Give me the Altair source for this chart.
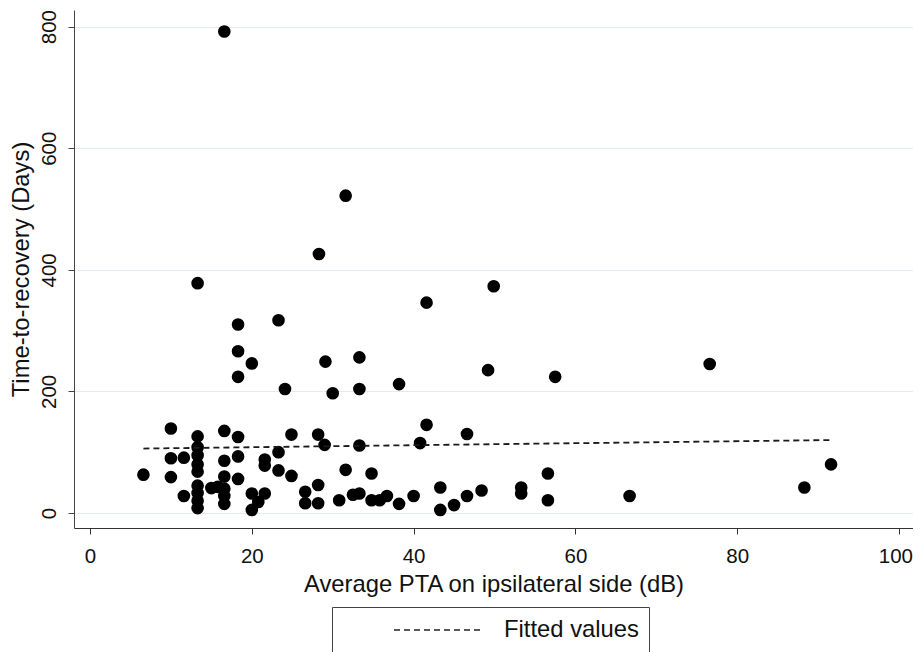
import altair as alt
import pandas as pd

# Scatter points: PTA (dB) and time-to-recovery (days)
pta = [16.6, 31.6, 28.3, 13.3, 49.9, 41.6, 23.3, 18.3, 18.3, 33.3,
       29.1, 20.0, 76.6, 49.2, 18.3, 57.5, 38.2, 24.1, 33.3, 30.0,
       41.6, 10.0, 16.6, 46.6, 24.9, 28.2, 13.3, 18.3, 40.8, 29.0,
       33.3, 13.3, 23.3, 13.3, 18.3, 10.0, 11.6, 21.6, 16.6, 13.3,
       91.6, 21.6, 31.6, 23.3, 13.3, 34.8, 56.6, 6.6, 24.9, 16.6,
       10.0, 18.3, 28.2, 13.3, 15.0, 15.8, 16.6, 43.3, 53.3, 88.3,
       48.4, 26.6, 13.3, 20.0, 21.6, 33.3, 53.3, 32.5, 11.6, 16.6,
       36.7, 40.0, 46.6, 66.7, 30.8, 34.8, 35.8, 56.6, 20.8, 13.3,
       26.6, 28.2, 16.6, 38.2, 45.0, 13.3, 20.0, 43.3]
days = [792, 522, 426, 378, 373, 346, 317, 310, 266, 256,
        249, 246, 245, 235, 224, 224, 212, 204, 204, 197,
        145, 139, 135, 130, 129, 129, 126, 125, 115, 112,
        111, 108, 100, 95, 93, 90, 91, 88, 86, 80,
        80, 78, 71, 70, 68, 65, 65, 63, 61, 60,
        59, 56, 46, 45, 41, 43, 40, 42, 42, 42,
        37, 35, 33, 32, 32, 32, 32, 30, 28, 28,
        28, 28, 28, 28, 21, 21, 21, 21, 18, 20,
        16, 16, 15, 15, 13, 8, 5, 5]

# Fitted values line (end points)
fit_pta = [6.6, 91.6]
fit_days = [106, 120]
fit_series = ["Fitted values", "Fitted values"]

x_ticks = [0, 20, 40, 60, 80, 100]
y_ticks = [0, 200, 400, 600, 800]

FONT = "Liberation Sans"

pts = pd.DataFrame({"pta": pta, "days": days})
fit = pd.DataFrame({"pta": fit_pta, "days": fit_days, "series": fit_series})

xscale = alt.Scale(domain=[-1.98, 101.73], nice=False, zero=False)
yscale = alt.Scale(domain=[-24.7, 827.4], nice=False, zero=False)

xaxis = alt.Axis(
    values=x_ticks, title="Average PTA on ipsilateral side (dB)", grid=False,
    domainColor="#333333", tickColor="#333333", tickSize=6,
    labelFont=FONT, labelFontSize=20.5, labelColor="#111111", labelPadding=12,
    labelFlush=15, labelFlushOffset=13.5,
    titleFont=FONT, titleFontSize=23.8, titleFontWeight="normal", titleColor="#111111",
    titleY=63, titleBaseline="alphabetic",
)
yaxis = alt.Axis(
    values=y_ticks, title="Time-to-recovery (Days)", grid=True,
    gridColor="#E1EDF0", gridWidth=1,
    domainColor="#444444", tickColor="#444444", tickSize=6,
    labelFont=FONT, labelFontSize=20.5, labelColor="#111111",
    labelAngle=270, labelAlign="center", labelBaseline="alphabetic", labelPadding=13,
    titleFont=FONT, titleFontSize=23.8, titleFontWeight="normal", titleColor="#111111",
    titleAngle=270, titleAlign="center", titleBaseline="alphabetic",
    titleX=-46, titleY=259,
)

points = alt.Chart(pts).mark_circle(size=160, color="black", opacity=1).encode(
    x=alt.X("pta:Q", scale=xscale, axis=xaxis),
    y=alt.Y("days:Q", scale=yscale, axis=yaxis),
)

line = alt.Chart(fit).mark_line(color="#1a1a1a", strokeWidth=1.8).encode(
    x=alt.X("pta:Q", scale=xscale),
    y=alt.Y("days:Q", scale=yscale),
    strokeDash=alt.StrokeDash(
        "series:N",
        scale=alt.Scale(domain=["Fitted values"], range=[[6, 4]]),
        legend=alt.Legend(
            orient="none", legendX=258, legendY=597,
            title=" ", titleOrient="left", titleFontSize=1, titlePadding=84,
            padding=10, strokeColor="#444444", fillColor="white",
            symbolType="M-3.75,0H3.75", symbolSize=576, symbolStrokeWidth=1.6,
            symbolStrokeColor="#222222", symbolFillColor="transparent",
            labelFont=FONT, labelFontSize=23.8, labelColor="#111111", labelOffset=52,
            labelExpr="datum.label + '\u00a0\u2009'",
        ),
    ),
)

chart = (
    alt.layer(points, line)
    .properties(
        width=839, height=518,
        autosize=alt.AutoSizeParams(type="none"),
        padding={"left": 66, "top": 2, "right": 0, "bottom": 124},
        background="white",
    )
    .configure_view(strokeWidth=0)
)

chart.save("out.html", embed_options={"renderer": "svg", "actions": False})
